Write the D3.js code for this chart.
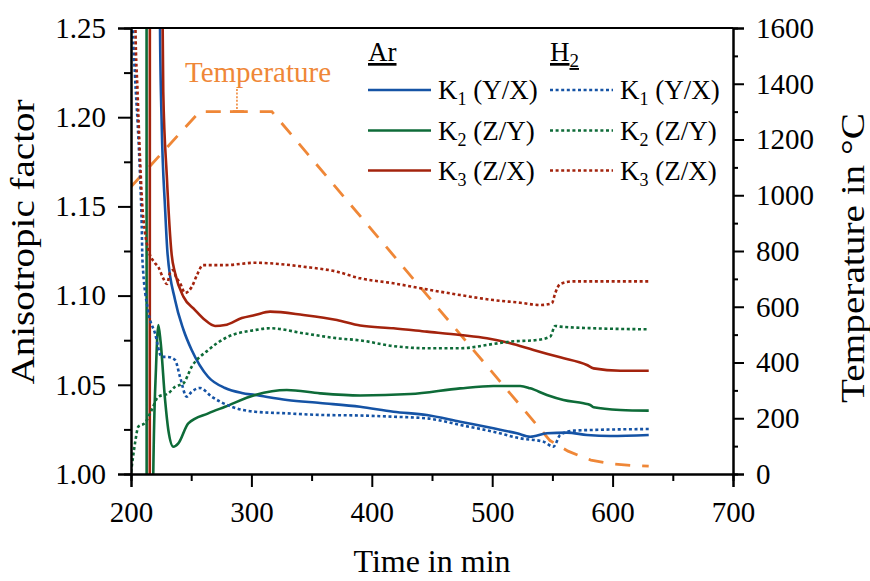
<!DOCTYPE html>
<html>
<head>
<meta charset="utf-8">
<script src="https://cdn.jsdelivr.net/npm/d3@7"></script>
<style>
  html, body { margin: 0; padding: 0; background: #fff; }
  svg { display: block; }
  text { font-family: "Liberation Serif", "DejaVu Serif", serif; fill: #000; }
</style>
</head>
<body>
<svg id="chart" width="870" height="581"></svg>
<script>
// ---------- data (time in min, value) ----------
const xTicks = [200, 300, 400, 500, 600, 700];
const yLeftTicks = [1.00, 1.05, 1.10, 1.15, 1.20, 1.25];
const yRightTicks = [0, 200, 400, 600, 800, 1000, 1200, 1400, 1600];

// Ar, K1 (Y/X)
const arK1 = [[200,1.6],[223.5,1.40],[224.1,1.250],[225.5,1.196],[228.3,1.149],[230.3,1.124],[236.6,1.0975],
  [243.5,1.081],[250.4,1.0695],[264.0,1.0545],[278.1,1.0482],[292.0,1.0454],[303.0,1.0443],[329.6,1.0415],
  [357.1,1.0398],[390.3,1.0377],[418,1.0349],[445.7,1.0331],[473.4,1.0293],[501,1.0256],[520.5,1.0228],
  [531.6,1.0209],[545.4,1.0228],[562,1.0232],[578.7,1.0219],[598,1.0213],[630,1.0219]];
// Ar, K2 (Z/Y)
const arK2 = [[200,1.6],[212.8,1.6],[213.1,0.8],[217.3,0.8],[218.5,1.0],[220.8,1.06],[222.7,1.0835],
  [224.6,1.074],[228.3,1.0415],[231,1.0247],[235.2,1.0153],[239.3,1.0172],[247.6,1.0284],[264.2,1.034],
  [278.1,1.0377],[303,1.0443],[329.4,1.0471],[357.1,1.0452],[390.3,1.0440],[431.9,1.0448],[473.4,1.048],
  [501,1.0493],[523.3,1.0493],[531.6,1.048],[545.4,1.0443],[559.2,1.0415],[575.9,1.0396],[581.4,1.0387],
  [584.2,1.0374],[606.4,1.0359],[630,1.0355]];
// Ar, K3 (Z/X)
const arK3 = [[200,0.8],[215.5,0.8],[215.8,1.6],[225.5,1.6],[226.3,1.25],[226.8,1.2141],[229.7,1.1676],
  [233.8,1.1228],[236.6,1.1127],[243.5,1.0994],[253.2,1.0919],[261.5,1.0863],[269.8,1.083],[278.1,1.0835],
  [292,1.0874],[303,1.0891],[315.5,1.091],[343.2,1.0891],[371,1.0863],[390.3,1.0832],[418,1.0817],
  [445.7,1.0798],[473.4,1.0779],[495.6,1.0761],[515,1.0733],[534.3,1.0695],[556.5,1.0654],[578.7,1.0611],
  [584.2,1.0592],[606.4,1.0579],[630,1.0579]];
// H2, K1 (Y/X)
const h2K1 = [[200.5,1.5],[201.7,1.25],[203.3,1.2236],[205.6,1.1956],[207.5,1.1676],[208.9,1.1396],[209.5,1.12],
  [214.1,1.0919],[219.9,1.079],[225.5,1.0657],[230.7,1.0656],[236.6,1.0639],[240.7,1.0545],[246.3,1.0433],
  [250.4,1.0461],[257.3,1.0482],[267.1,1.0433],[283.7,1.0377],[303,1.0349],[329.4,1.034],[357.1,1.0331],
  [390.3,1.0328],[418,1.0321],[445.7,1.0312],[473.4,1.0275],[501,1.0237],[523.3,1.02],[542.6,1.0181],
  [550.9,1.0153],[556.5,1.0219],[567.6,1.0243],[584.2,1.0247],[630,1.0252]];
// H2, K2 (Z/Y)
const h2K2 = [[200,1.001],[201.7,1.0097],[203.5,1.018],[206.1,1.0265],[211.6,1.0286],[217.2,1.0359],
  [222.7,1.0433],[231,1.0452],[236.6,1.0489],[243.5,1.0508],[250.4,1.0601],[264.2,1.0695],[278.1,1.0761],
  [303,1.0807],[315.5,1.0817],[343.2,1.0789],[371,1.0761],[390.3,1.0749],[418,1.0717],[445.7,1.0705],
  [473.4,1.0705],[501,1.0729],[515,1.0742],[537.1,1.0751],[548.2,1.077],[552.3,1.083],[556.5,1.0826],
  [584.2,1.0817],[630,1.0811]];
// H2, K3 (Z/X)
const h2K3 = [[202,1.5],[203.7,1.25],[205.4,1.2152],[207.5,1.1771],[209.1,1.1536],[211.6,1.1356],
  [214.4,1.1256],[219.9,1.1183],[222.7,1.116],[226.6,1.1099],[229.9,1.1065],[232.4,1.1127],[234.9,1.1143],
  [237.4,1.1104],[240.7,1.1071],[244.9,1.1015],[250.4,1.1048],[254.8,1.1115],[259.8,1.1171],[278.1,1.1171],
  [303,1.1184],[315.5,1.1181],[343.2,1.1162],[371,1.1134],[390.3,1.1097],[418,1.1069],[445.7,1.1035],
  [473.4,1.1003],[501,1.0975],[523.3,1.096],[540,1.0947],[549.6,1.0957],[552.3,1.1013],[556.5,1.1065],
  [567.6,1.108],[630,1.108]];
// Temperature (°C)
const temperature = [[200,1030],[257,1300],[317,1300],[548,120],[556,100],[563,82],[572,66],[582,50],
  [600,36],[615,31],[630,28]];

const series = [
  {name:"K", sub:"1", rest:" (Y/X)", data: arK1, color:"#1553a5", dotted:false, col:0},
  {name:"K", sub:"2", rest:" (Z/Y)", data: arK2, color:"#0e6b38", dotted:false, col:0},
  {name:"K", sub:"3", rest:" (Z/X)", data: arK3, color:"#a3230d", dotted:false, col:0},
  {name:"K", sub:"1", rest:" (Y/X)", data: h2K1, color:"#1553a5", dotted:true, col:1},
  {name:"K", sub:"2", rest:" (Z/Y)", data: h2K2, color:"#0e6b38", dotted:true, col:1},
  {name:"K", sub:"3", rest:" (Z/X)", data: h2K3, color:"#a3230d", dotted:true, col:1}
];

// ---------- layout ----------
const L = 131, R = 733, T = 28, B = 474;
const svg = d3.select("#chart");
const x = d3.scaleLinear().domain([200, 700]).range([L, R]);
const yL = d3.scaleLinear().domain([1.0, 1.25]).range([B, T]);
const yR = d3.scaleLinear().domain([0, 1600]).range([B, T]);

svg.append("defs").append("clipPath").attr("id", "plotclip")
  .append("rect").attr("x", L).attr("y", T).attr("width", R - L).attr("height", B - T);

const plot = svg.append("g").attr("clip-path", "url(#plotclip)");

// temperature line
plot.append("path")
  .datum(temperature)
  .attr("fill", "none")
  .attr("stroke", "#ef8737")
  .attr("stroke-width", 2.8)
  .attr("stroke-dasharray", "15,12")
  .attr("d", d3.line().x(d => x(d[0])).y(d => yR(d[1])));

// anisotropy lines
const lineGen = d3.line().x(d => x(d[0])).y(d => yL(d[1])).curve(d3.curveMonotoneX);
series.forEach(s => {
  plot.append("path")
    .datum(s.data)
    .attr("fill", "none")
    .attr("stroke", s.color)
    .attr("stroke-width", 2.6)
    .attr("stroke-linejoin", "round")
    .attr("stroke-dasharray", s.dotted ? "3,2.6" : null)
    .attr("d", lineGen);
});

// ---------- axes ----------
const FS = 29;
function styleAxis(g, fs) {
  g.select(".domain").attr("stroke", "#000").attr("stroke-width", 2);
  g.selectAll(".tick line").attr("stroke", "#000").attr("stroke-width", 2);
  g.selectAll(".tick text").style("font-family", '"Liberation Serif", serif').style("font-size", fs + "px").attr("fill", "#000");
}
// minor ticks
svg.append("g").attr("transform", `translate(0,${B})`)
  .call(d3.axisBottom(x).tickValues(d3.range(250, 700, 100)).tickSize(7).tickFormat(""))
  .call(g => styleAxis(g, FS));
svg.append("g").attr("transform", `translate(${L},0)`)
  .call(d3.axisLeft(yL).tickValues([1.025, 1.075, 1.125, 1.175, 1.225]).tickSize(7).tickFormat(""))
  .call(g => styleAxis(g, FS));
svg.append("g").attr("transform", `translate(${R},0)`)
  .call(d3.axisRight(yR).tickValues(d3.range(100, 1600, 200)).tickSize(5).tickFormat(""))
  .call(g => styleAxis(g, FS));
// major ticks
svg.append("g").attr("transform", `translate(0,${B})`)
  .call(d3.axisBottom(x).tickValues(xTicks).tickSize(13).tickPadding(14).tickFormat(d3.format("d")))
  .call(g => styleAxis(g, FS));
svg.append("g").attr("transform", `translate(${L},0)`)
  .call(d3.axisLeft(yL).tickValues(yLeftTicks).tickSize(13).tickPadding(12).tickFormat(d3.format(".2f")))
  .call(g => styleAxis(g, FS));
svg.append("g").attr("transform", `translate(${R},0)`)
  .call(d3.axisRight(yR).tickValues(yRightTicks).tickSize(11).tickPadding(12).tickFormat(d3.format("d")))
  .call(g => styleAxis(g, FS));
// top frame line
svg.append("line").attr("x1", L).attr("x2", R).attr("y1", T).attr("y2", T)
  .attr("stroke", "#000").attr("stroke-width", 2);

// axis titles
svg.append("text").attr("x", (L + R) / 2).attr("y", 572).attr("text-anchor", "middle")
  .style("font-size", "32px").text("Time in min");
svg.append("text").attr("transform", "translate(34,242) rotate(-90)").attr("text-anchor", "middle")
  .style("font-size", "33px").attr("textLength", 285).attr("lengthAdjust", "spacingAndGlyphs")
  .text("Anisotropic factor");
svg.append("text").attr("transform", "translate(864,258) rotate(-90)").attr("text-anchor", "middle")
  .style("font-size", "33px").attr("textLength", 290).attr("lengthAdjust", "spacingAndGlyphs")
  .text("Temperature in °C");

// temperature annotation
const annT = 288;
svg.append("text").attr("x", 258).attr("y", 82).attr("text-anchor", "middle")
  .style("font-size", "29px").style("fill", "#ef8737").text("Temperature");
svg.append("line").attr("x1", x(annT)).attr("x2", x(annT)).attr("y1", 89).attr("y2", yR(1300))
  .attr("stroke", "#ef8737").attr("stroke-width", 1.6).attr("stroke-dasharray", "2,1.6");
svg.append("line").attr("x1", x(annT) - 7).attr("x2", x(annT) + 7).attr("y1", yR(1300)).attr("y2", yR(1300))
  .attr("stroke", "#ef8737").attr("stroke-width", 2.8);

// ---------- legend ----------
const LFS = 27;
const colX = [368, 550];
const rowY = [90, 130.5, 170.5];
const headers = [["Ar", null], ["H", "2"]];
headers.forEach((h, i) => {
  const t = svg.append("text").attr("x", colX[i]).attr("y", 61).style("font-size", LFS + "px")
    .style("text-decoration", "underline");
  t.append("tspan").text(h[0]);
  if (h[1]) t.append("tspan").attr("dy", 6).style("font-size", "19px").text(h[1]);
});
series.forEach((s, i) => {
  const r = i % 3;
  const x0 = colX[s.col];
  svg.append("line").attr("x1", x0).attr("x2", x0 + 63).attr("y1", rowY[r]).attr("y2", rowY[r])
    .attr("stroke", s.color).attr("stroke-width", 2.6)
    .attr("stroke-dasharray", s.dotted ? "3,2.6" : null);
  const t = svg.append("text").attr("x", x0 + 70).attr("y", rowY[r] + 9).style("font-size", LFS + "px");
  t.append("tspan").text(s.name);
  t.append("tspan").attr("dy", 6).style("font-size", "18px").text(s.sub);
  t.append("tspan").attr("dy", -6).text(s.rest);
});
</script>
</body>
</html>
